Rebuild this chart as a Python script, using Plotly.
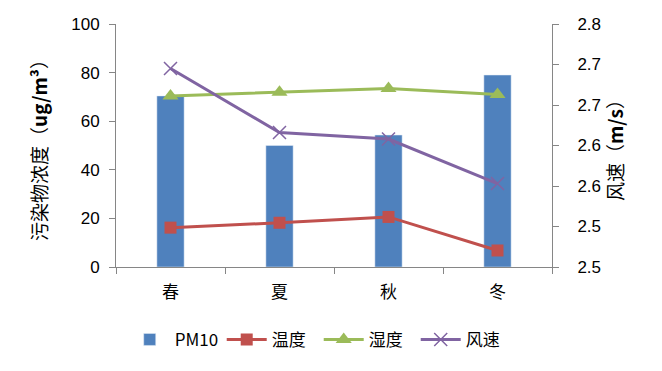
import plotly.graph_objects as go

seasons = ["春", "夏", "秋", "冬"]
pm10 = [70.4, 50.0, 54.3, 79.0]
temperature = [16.2, 18.2, 20.6, 6.8]
humidity = [70.4, 71.9, 73.5, 71.0]
wind = [2.745, 2.666, 2.658, 2.603]

left_ticks = [0, 20, 40, 60, 80, 100]
right_tickvals = [2.50, 2.55, 2.60, 2.65, 2.70, 2.75, 2.80]
right_ticktext = ["2.5", "2.5", "2.6", "2.6", "2.7", "2.7", "2.8"]

num_font = "Liberation Sans, Open Sans, sans-serif"
cjk_font = "Noto Sans CJK SC, sans-serif"
axis_col = "#868686"

fig = go.Figure()
fig.add_trace(go.Bar(x=seasons, y=pm10, name="PM10", marker_color="#4F81BD",
                     width=0.25, yaxis="y"))
fig.add_trace(go.Scatter(x=seasons, y=temperature, name="温度", mode="lines+markers",
                         line=dict(color="#C0504D", width=3),
                         marker=dict(symbol="square", size=12, color="#C0504D"), yaxis="y"))
fig.add_trace(go.Scatter(x=seasons, y=humidity, name="湿度", mode="lines+markers",
                         line=dict(color="#9BBB59", width=3),
                         marker=dict(symbol="triangle-up", size=14, color="#9BBB59"), yaxis="y"))
fig.add_trace(go.Scatter(x=seasons, y=wind, name="风速", mode="lines+markers",
                         line=dict(color="#8064A2", width=3),
                         marker=dict(symbol="x-thin-open", size=13, color="#8064A2",
                                     line=dict(width=1.5, color="#8064A2")), yaxis="y2"))

fig.update_layout(
    width=654, height=363,
    margin=dict(l=108, r=110, t=16, b=104, autoexpand=False),
    plot_bgcolor="white", paper_bgcolor="white",
    font=dict(family=cjk_font, size=17, color="#000000"),
    showlegend=True,
    legend=dict(orientation="h", x=0.02, xanchor="left", y=-0.30, yanchor="middle",
                font=dict(family=cjk_font, size=17), itemwidth=40,
                entrywidth=42, entrywidthmode="pixels",
                traceorder="normal"),
    xaxis=dict(type="category", showline=True, linecolor=axis_col, linewidth=1,
               ticks="outside", tickson="boundaries", tickcolor=axis_col, ticklen=6,
               showgrid=False, tickfont=dict(family=cjk_font, size=17), range=[-0.5, 3.5],
               ticklabelstandoff=10),
    yaxis=dict(range=[0, 100], tickvals=left_ticks, showline=True, linecolor=axis_col,
               ticks="outside", tickcolor=axis_col, ticklen=6, showgrid=False, zeroline=False,
               tickfont=dict(family=num_font, size=17), ticklabelstandoff=6,
               title=dict(text="污染物浓度（<b>ug/m³</b>）", font=dict(family=cjk_font, size=19),
                          standoff=18)),
    yaxis2=dict(range=[2.5, 2.8], overlaying="y", side="right", tickvals=right_tickvals,
                ticktext=right_ticktext, showline=True, linecolor=axis_col, ticks="outside",
                tickcolor=axis_col, ticklen=6, showgrid=False, zeroline=False,
                tickfont=dict(family=num_font, size=17), ticklabelstandoff=15,
                title=dict(text="风速（<b>m/s</b>）", font=dict(family=cjk_font, size=19),
                           standoff=5)),
    bargap=0.75,
)

fig.write_html("out.html")
